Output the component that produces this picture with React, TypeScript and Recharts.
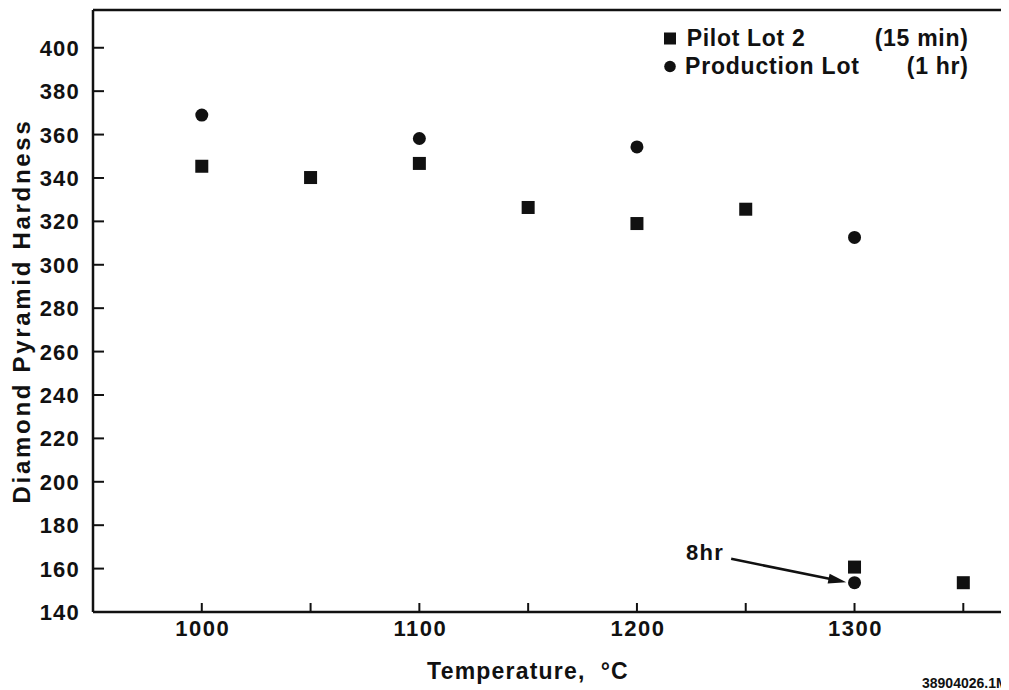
import React from "react";
import {
  ScatterChart,
  Scatter,
  XAxis,
  YAxis,
  ReferenceLine,
  ReferenceDot,
  Legend,
  Customized,
} from "recharts";

// ---- data ----
const pilotTemps = [1000, 1050, 1100, 1150, 1200, 1250, 1300, 1350];
const pilotHardness = [345.4, 340.2, 346.7, 326.4, 319, 325.6, 160.7, 153.5];
const prodTemps = [1000, 1100, 1200, 1300, 1300];
const prodHardness = [369, 358.2, 354.3, 312.6, 153.5];

const xTicks = [1000, 1050, 1100, 1150, 1200, 1250, 1300, 1350];
const yTicks = [140, 160, 180, 200, 220, 240, 260, 280, 300, 320, 340, 360, 380, 400];
const xDomain = [950, 1371];
const yDomain = [140, 417.4];

const seriesNames = ["Pilot Lot 2", "Production Lot"];
const seriesNotes = ["(15 min)", "(1 hr)"];

const arrowStart = { x: 1243.3, y: 164.5 };
const arrowEnd = { x: 1296.2, y: 153.7 };
const noteAt = { x: 1231.3, y: 167.6 };
const noteText = "8hr";

const xTitle = "Temperature,  °C";
const yTitle = "Diamond Pyramid Hardness";
const figureId = "38904026.1M";

const pilotData = pilotTemps.map((t, i) => ({ t, h: pilotHardness[i] }));
const prodData = prodTemps.map((t, i) => ({ t, h: prodHardness[i] }));

const FONT = "'Liberation Sans', Arial, Helvetica, sans-serif";
const INK = "#111";

const SquareShape = (p: any) => (
  <rect x={p.cx - 6.5} y={p.cy - 6.5} width={13} height={13} fill={INK} />
);
const CircleShape = (p: any) => <circle cx={p.cx} cy={p.cy} r={6.5} fill={INK} />;

const YTick = (p: any) => {
  const { x, y, payload } = p;
  return (
    <g>
      <line x1={x} x2={x + 11} y1={y} y2={y} stroke={INK} strokeWidth={2} />
      <text
        x={x - 13}
        y={y + 8}
        textAnchor="end"
        fontFamily={FONT}
        fontWeight={700}
        fontSize={22}
        letterSpacing={1.2}
        fill={INK}
      >
        {payload.value}
      </text>
    </g>
  );
};

const XTick = (p: any) => {
  const { x, y, payload } = p;
  const labelled = payload.value % 100 === 0;
  return (
    <g>
      <line x1={x} x2={x} y1={y} y2={y - 9} stroke={INK} strokeWidth={2} />
      {labelled ? (
        <text
          x={x + 1}
          y={y + 23.5}
          textAnchor="middle"
          fontFamily={FONT}
          fontWeight={700}
          fontSize={22}
          letterSpacing={1.5}
          fill={INK}
        >
          {payload.value}
        </text>
      ) : null}
    </g>
  );
};

const ArrowShape = (p: any) => {
  const { x1, y1, x2, y2 } = p;
  const dx = x2 - x1;
  const dy = y2 - y1;
  const len = Math.sqrt(dx * dx + dy * dy) || 1;
  const ux = dx / len;
  const uy = dy / len;
  const headLen = 18;
  const headHalf = 5;
  const bx = x2 - ux * headLen;
  const by = y2 - uy * headLen;
  const px = -uy;
  const py = ux;
  return (
    <g>
      <line x1={x1} y1={y1} x2={bx + ux * 2} y2={by + uy * 2} stroke={INK} strokeWidth={2.5} />
      <polygon
        points={`${x2},${y2} ${bx + px * headHalf},${by + py * headHalf} ${bx - px * headHalf},${by - py * headHalf}`}
        fill={INK}
      />
    </g>
  );
};

const NoteShape = (p: any) => (
  <text
    x={p.cx}
    y={p.cy + 8}
    textAnchor="middle"
    fontFamily={FONT}
    fontWeight={700}
    fontSize={22}
    letterSpacing={1.2}
    fill={INK}
  >
    {noteText}
  </text>
);

const LegendContent = () => (
  <svg width={340} height={64} style={{ display: "block", overflow: "visible" }}>
    <rect x={14} y={12.5} width={12} height={12} fill={INK} />
    <text x={36.7} y={26} fontFamily={FONT} fontWeight={700} fontSize={23} letterSpacing={0.7} fill={INK}>
      {seriesNames[0]}
    </text>
    <text x={318.5} y={26} textAnchor="end" fontFamily={FONT} fontWeight={700} fontSize={23} letterSpacing={0.7} fill={INK}>
      {seriesNotes[0]}
    </text>
    <circle cx={20} cy={46.5} r={5.8} fill={INK} />
    <text x={35} y={54} fontFamily={FONT} fontWeight={700} fontSize={23} letterSpacing={0.8} fill={INK}>
      {seriesNames[1]}
    </text>
    <text x={318.5} y={54} textAnchor="end" fontFamily={FONT} fontWeight={700} fontSize={23} letterSpacing={0.7} fill={INK}>
      {seriesNotes[1]}
    </text>
  </svg>
);

const Titles = () => (
  <g>
    <text
      x={520}
      y={671.3}
      textAnchor="middle"
      fontFamily={FONT}
      fontWeight={700}
      fontSize={23}
      letterSpacing={1.2}
      fill={INK}
      style={{ whiteSpace: "pre" }}
    >
      {xTitle}
    </text>
    <text
      transform="translate(22,303) rotate(-90)"
      x={0}
      y={0}
      textAnchor="middle"
      fontFamily={FONT}
      fontWeight={700}
      fontSize={24}
      letterSpacing={2.7}
      fill={INK}
    >
      {yTitle}
    </text>
    <text x={914} y={680} fontFamily={FONT} fontWeight={700} fontSize={14} fill={INK}>
      {figureId}
    </text>
  </g>
);

export default function App() {
  return (
    <div style={{ width: 1001, height: 682, background: "#fff" }}>
      <ScatterChart
        width={1001}
        height={682}
        margin={{ top: 2, right: 0, bottom: 0, left: 0 }}
        style={{ background: "#fff" }}
      >
        <XAxis
          type="number"
          dataKey="t"
          domain={xDomain}
          ticks={xTicks}
          allowDataOverflow
          height={78}
          tickLine={false}
          tickSize={0}
          tickMargin={0}
          axisLine={{ stroke: INK, strokeWidth: 2.5 }}
          tick={<XTick />}
          interval={0}
        />
        <YAxis
          type="number"
          dataKey="h"
          domain={yDomain}
          ticks={yTicks}
          allowDataOverflow
          width={85}
          tickLine={false}
          tickSize={0}
          tickMargin={0}
          axisLine={{ stroke: INK, strokeWidth: 2.5 }}
          tick={<YTick />}
          interval={0}
        />
        <ReferenceLine y={yDomain[1]} stroke={INK} strokeWidth={2.5} ifOverflow="visible" />
        <Scatter
          name={seriesNames[0]}
          data={pilotData}
          shape={SquareShape}
          isAnimationActive={false}
        />
        <Scatter
          name={seriesNames[1]}
          data={prodData}
          shape={CircleShape}
          isAnimationActive={false}
        />
        <ReferenceLine
          segment={[arrowStart, arrowEnd]}
          shape={ArrowShape}
          ifOverflow="visible"
        />
        <ReferenceDot x={noteAt.x} y={noteAt.y} r={0} shape={NoteShape} ifOverflow="visible" />
        <Legend
          layout="horizontal"
          verticalAlign="middle"
          align="center"
          content={<LegendContent />}
          wrapperStyle={{ top: 12, left: 642, width: 340, height: 64 }}
        />
        <Customized component={Titles} />
      </ScatterChart>
    </div>
  );
}
